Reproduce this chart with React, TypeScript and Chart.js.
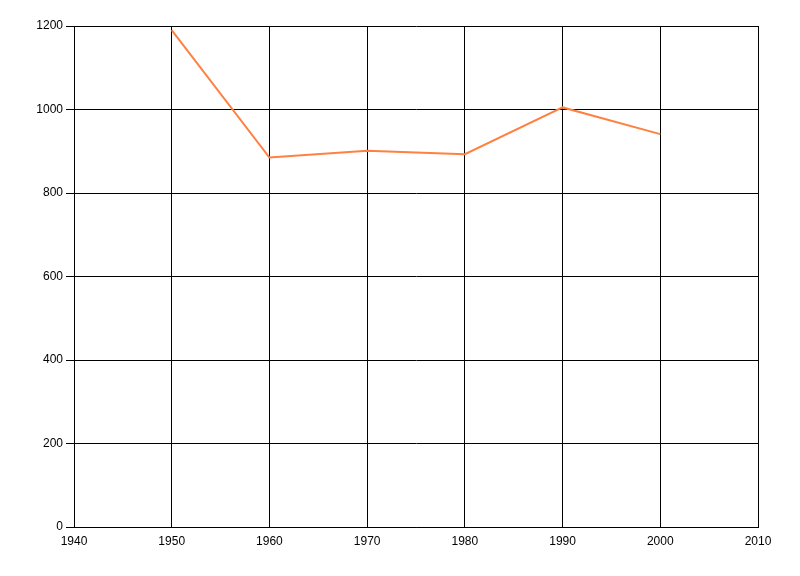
import React, { useEffect, useRef } from "react";
import { Chart, registerables } from "chart.js";

Chart.register(...registerables);

const years = [1950, 1960, 1970, 1980, 1990, 2000];
const values = [1190, 885, 901, 893, 1005, 941];
const xTicks = [1940, 1950, 1960, 1970, 1980, 1990, 2000, 2010];
const yTicks = [0, 200, 400, 600, 800, 1000, 1200];

export default function App() {
  const ref = useRef<HTMLCanvasElement>(null);
  useEffect(() => {
    document.body.style.margin = "0";
    const ctx = ref.current!;
    const chart = new Chart(ctx, {
      type: "line",
      data: {
        datasets: [
          {
            data: years.map((y, i) => ({ x: y, y: values[i] })),
            borderColor: "rgb(255,128,64)",
            borderWidth: 2,
            pointRadius: 0,
            tension: 0,
            fill: false,
          },
        ],
      },
      options: {
        animation: false,
        responsive: false,
        layout: { padding: { top: 26, right: 42, left: 0, bottom: 0 } },
        plugins: { legend: { display: false }, tooltip: { enabled: false } },
        scales: {
          x: {
            type: "linear",
            min: xTicks[0],
            max: xTicks[xTicks.length - 1],
            afterBuildTicks: (s: any) => {
              s.ticks = xTicks.map((v) => ({ value: v }));
            },
            afterFit: (s: any) => {
              s.height = 49;
            },
            ticks: {
              callback: (v: any) => String(v),
              color: "#000",
              font: { family: "Liberation Sans", size: 12 },
              padding: 7,
              maxRotation: 0,
            },
            grid: { color: "#000", lineWidth: 1, drawTicks: false },
            border: { color: "#000", width: 1 },
          },
          y: {
            type: "linear",
            min: yTicks[0],
            max: yTicks[yTicks.length - 1],
            afterBuildTicks: (s: any) => {
              s.ticks = yTicks.map((v) => ({ value: v }));
            },
            afterFit: (s: any) => {
              s.width = 74;
            },
            ticks: {
              callback: (v: any) => String(v),
              color: "#000",
              font: { family: "Liberation Sans", size: 12 },
              padding: 3,
            },
            grid: { color: "#000", lineWidth: 1, drawTicks: true, tickLength: 8 },
            border: { color: "#000", width: 1 },
          },
        },
      },
    });
    return () => chart.destroy();
  }, []);
  return (
    <div style={{ width: 800, height: 576, background: "#fff" }}>
      <canvas ref={ref} width={800} height={576} />
    </div>
  );
}
